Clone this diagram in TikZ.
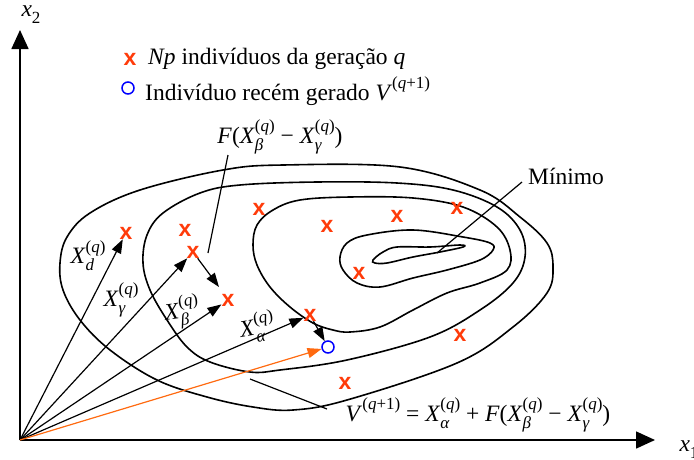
\documentclass[tikz,border=0pt]{standalone}
\usepackage{fontspec}
\setmainfont{Liberation Serif}
\newfontfamily\crossfont{Liberation Sans}
\usetikzlibrary{arrows.meta}
\definecolor{indred}{HTML}{FF3B0A}
\definecolor{vecorange}{HTML}{FF6A10}
\newcommand{\smallidx}{\fontsize{17}{17}\selectfont}
% simbolo com indice e expoente
\newcommand{\symb}[3]{\textit{#1}\rlap{\raisebox{-0.3em}{\smallidx\itshape #2}}\raisebox{0.48em}{\smallidx #3}}
\newcommand{\Xq}[1]{\symb{X}{#1}{(\textit{q})}}
\newcommand{\Vq}{\textit{V}\raisebox{0.48em}{\smallidx(\textit{q}+1)}}
\tikzset{
  contour/.style={line width=1.6pt},
  vec/.style={line width=1.2pt, -{Triangle[length=14pt,width=10pt]}},
  axis/.style={line width=1.6pt, -{Triangle[length=19pt,width=17pt]}},
  indiv/.style={inner sep=0pt, text=indred, font=\crossfont\bfseries\fontsize{23}{23}\selectfont},
  newind/.style={circle, draw=blue, line width=1.5pt, minimum size=12pt, inner sep=0pt},
  lbl/.style={font=\fontsize{23.5}{27}\selectfont, inner sep=0pt},
  pointer/.style={line width=1.2pt}
}
\begin{document}
\begin{tikzpicture}[x=1pt,y=-1pt]
  \useasboundingbox (0,0) rectangle (694,459);
  % eixos
  \coordinate (O) at (20,440);
  \coordinate (x1end) at (655,440);
  \coordinate (x2end) at (20,30);
  \draw[axis] (O) -- (x1end);
  \draw[axis] (O) -- (x2end);
  \node[lbl] (x1lbl) at (689,450) {\textit{x}\raisebox{-0.3em}{\smallidx 1}};
  \node[lbl] (x2lbl) at (31,15) {\textit{x}\raisebox{-0.3em}{\smallidx 2}};
  % curvas de nivel
  \draw[contour] plot[smooth cycle, tension=0.6] coordinates {(60,263) (67,237) (90,213) (140,190) (223,170) (283,165) (400,167) (480,190) (520,217) (547,243) (553,267) (547,293) (513,327) (457,363) (347,400) (293,410) (253,407) (207,397) (157,380) (110,350) (80,320) (63,290)};
  \draw[contour] plot[smooth cycle, tension=0.6] coordinates {(143,263) (147,235) (163,213) (200,193) (240,185) (317,182) (397,183) (453,190) (497,207) (520,230) (525,257) (513,283) (480,310) (430,337) (347,360) (280,370) (250,372) (210,362) (187,347) (167,320) (150,290)};
  \draw[contour] plot[smooth cycle, tension=0.6] coordinates {(253,245) (257,225) (273,210) (300,200) (350,197) (413,198) (463,207) (497,227) (510,250) (507,270) (480,283) (447,293) (413,310) (380,327) (350,332) (333,330) (313,323) (290,307) (270,287) (257,265)};
  \draw[contour] plot[smooth cycle, tension=0.6] coordinates {(340,257) (347,243) (367,235) (413,230) (463,237) (490,243) (493,250) (480,260) (447,270) (413,278) (380,287) (357,283) (343,270)};
  \draw[contour] plot[smooth cycle, tension=0.6] coordinates {(373,260) (383,252) (397,247) (430,247) (460,245) (463,247) (440,252) (413,257) (387,263) (375,263)};
  % individuos
  \node[indiv] (xd) at (126,233) {x};
  \node[indiv] (i2) at (185,230) {x};
  \node[indiv] (xg) at (193,252) {x};
  \node[indiv] (xb) at (228,300) {x};
  \node[indiv] (i5) at (259,209) {x};
  \node[indiv] (i6) at (327,226) {x};
  \node[indiv] (i7) at (397,216) {x};
  \node[indiv] (i8) at (457,208) {x};
  \node[indiv] (i9) at (359,273) {x};
  \node[indiv] (xa) at (310,315) {x};
  \node[indiv] (i11) at (460,335) {x};
  \node[indiv] (i12) at (345,383) {x};
  \node[newind] (v) at (328,347) {};
  % vetores
  \draw[vec] (O) -- (xd);
  \draw[vec] (O) -- (xg);
  \draw[vec] (O) -- (xb);
  \draw[vec] (O) -- (xa);
  \draw[vec, vecorange] (O) -- (v);
  \coordinate (fend) at (219,287);
  \draw[vec] (xg) -- (fend);
  \draw[vec] (xa) -- (v);
  \node[lbl] (ldl) at (88,256) {\Xq{d}};
  \node[lbl] (lgl) at (121,300) {\Xq{γ}};
  \node[lbl, rotate=8] (lbl) at (182,312) {\Xq{β}};
  \node[lbl, rotate=10] (lal) at (257,327) {\Xq{α}};
  % rotulos
  \node[lbl] (flabel) at (280,137) {\textit{F}(\Xq{β} − \Xq{γ})};
  \coordinate (fa) at (228,155);
  \coordinate (fb) at (208,253);
  \draw[pointer] (fa) -- (fb);
  \node[lbl] (vlabel) at (478,415) {\Vq{} = \Xq{α} + \textit{F}(\Xq{β} − \Xq{γ})};
  \coordinate (va) at (250,379);
  \coordinate (vb) at (327,409);
  \draw[pointer] (va) -- (vb);
  \node[lbl] (minlabel) at (566,176) {Mínimo};
  \coordinate (ma) at (522,182);
  \coordinate (mb) at (437,253);
  \draw[pointer] (ma) -- (mb);
  % legenda
  \node[indiv] (legx) at (130,59) {x};
  \node[lbl, anchor=west] (legxt) at (148,59) {\textit{Np} indivíduos da geração \textit{q}};
  \node[newind] (legv) at (128,88) {};
  \node[lbl, anchor=west] (legvt) at (145,91) {Indivíduo recém gerado \Vq};
\end{tikzpicture}
\end{document}
